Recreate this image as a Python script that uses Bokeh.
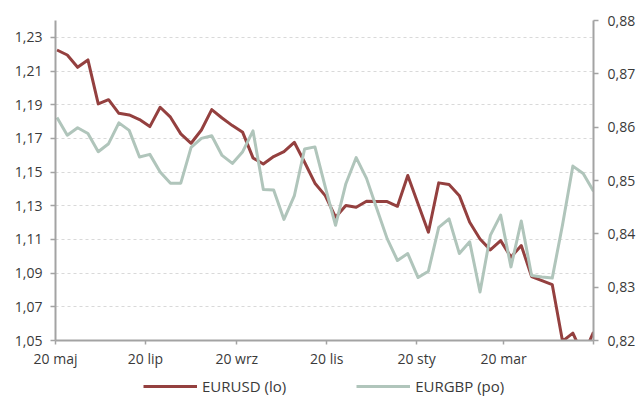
import pandas as pd
from bokeh.plotting import figure
from bokeh.layouts import column
from bokeh.models import (Range1d, LinearAxis, FixedTicker, CustomJSTickFormatter,
                          Legend, LegendItem)
from bokeh.embed import file_html
from bokeh.resources import INLINE

# ---- data (weekly, Fridays) ----
dates = pd.date_range("2021-05-21", periods=53, freq="7D")
eurusd = [1.2225, 1.2195, 1.2122, 1.2166, 1.1905, 1.1930, 1.1849, 1.1839, 1.1812, 1.1770,
          1.1885, 1.1826, 1.1727, 1.1671, 1.1750, 1.1871, 1.1821, 1.1776, 1.1736, 1.1584,
          1.1548, 1.1592, 1.1622, 1.1677, 1.1558, 1.1434, 1.1360, 1.1232, 1.1301, 1.1291,
          1.1327, 1.1325, 1.1325, 1.1297, 1.1480, 1.1310, 1.1143, 1.1436, 1.1426, 1.1360,
          1.1202, 1.1103, 1.1038, 1.1093, 1.0995, 1.1064, 1.0880, 1.0856, 1.0832, 1.0496,
          1.0544, 1.0410, 1.0550]
eurgbp = [0.8618, 0.8585, 0.8599, 0.8588, 0.8554, 0.8569, 0.8608, 0.8594, 0.8544, 0.8549,
          0.8516, 0.8495, 0.8495, 0.8562, 0.8579, 0.8584, 0.8547, 0.8532, 0.8554, 0.8593,
          0.8483, 0.8482, 0.8427, 0.8471, 0.8559, 0.8563, 0.8488, 0.8416, 0.8494, 0.8543,
          0.8504, 0.8447, 0.8391, 0.8350, 0.8363, 0.8318, 0.8330, 0.8412, 0.8428, 0.8363,
          0.8385, 0.8291, 0.8397, 0.8435, 0.8338, 0.8424, 0.8322, 0.8319, 0.8317, 0.8417,
          0.8527, 0.8513, 0.8480]

left_ticks = [1.05, 1.07, 1.09, 1.11, 1.13, 1.15, 1.17, 1.19, 1.21, 1.23]
right_ticks = [0.82, 0.83, 0.84, 0.85, 0.86, 0.87, 0.88]
x_tick_dates = ["2021-05-20", "2021-07-20", "2021-09-20", "2021-11-20",
                "2022-01-20", "2022-03-20", "2022-05-20"]
x_tick_labels = ["20 maj", "20 lip", "20 wrz", "20 lis", "20 sty", "20 mar", ""]
series_labels = ["EURUSD (lo)", "EURGBP (po)"]

RED = "#94403f"
GREEN = "#b0c5bb"
AXIS = "#a3a3a3"
TEXT = "#3a3a3a"
FONT = "Open Sans"

x_ms = [pd.Timestamp(d).value / 1e6 for d in x_tick_dates]

p = figure(width=638, height=370, x_axis_type="datetime",
           x_range=Range1d(x_ms[0], x_ms[-1]), y_range=Range1d(1.05, 1.24),
           output_backend="svg", toolbar_location=None,
           min_border_left=55, min_border_right=45, min_border_top=20, min_border_bottom=30)
p.outline_line_color = None
p.background_fill_color = "white"
p.border_fill_color = "white"

p.extra_y_ranges = {"right": Range1d(0.82, 0.88)}

num_fmt = CustomJSTickFormatter(code="return tick.toFixed(2).replace('.', ',');")

# x axis
xa = p.xaxis[0]
xa.ticker = FixedTicker(ticks=x_ms)
xa.formatter = CustomJSTickFormatter(args=dict(t=x_ms, l=x_tick_labels), code="""
let best = 0, bd = Infinity;
for (let i = 0; i < t.length; i++) { const d = Math.abs(t[i] - tick); if (d < bd) { bd = d; best = i; } }
return l[best];
""")
# left axis
ya = p.yaxis[0]
ya.ticker = FixedTicker(ticks=left_ticks)
ya.formatter = num_fmt

ra = LinearAxis(y_range_name="right", ticker=FixedTicker(ticks=right_ticks), formatter=num_fmt)
p.add_layout(ra, "right")

for ax in (xa, ya, ra):
    ax.axis_line_color = AXIS
    ax.axis_line_width = 2
    ax.major_tick_line_color = AXIS
    ax.major_tick_line_width = 1.5
    ax.major_tick_in = 0
    ax.major_tick_out = 5
    ax.minor_tick_line_color = None
    ax.major_label_text_font = FONT
    ax.major_label_text_font_size = "14px"
    ax.major_label_text_color = TEXT
xa.major_tick_out = 4
xa.major_label_standoff = 4
ya.major_label_standoff = 8
ra.major_label_standoff = 9

p.xgrid.visible = False
p.ygrid.grid_line_color = "#d9d9d9"
p.ygrid.grid_line_dash = "3 3"
p.ygrid.grid_line_width = 1

r1 = p.line(dates, eurusd, line_color=RED, line_width=3, line_join="round")
r2 = p.line(dates, eurgbp, line_color=GREEN, line_width=3, line_join="round",
            y_range_name="right")

# ---- legend strip below the chart ----
q = figure(width=638, height=26, x_range=Range1d(0, 1), y_range=Range1d(0, 1),
           output_backend="svg", toolbar_location=None,
           x_axis_location=None, y_axis_location=None,
           min_border_left=55, min_border_right=45, min_border_top=0, min_border_bottom=0)
q.outline_line_color = None
q.xgrid.visible = False
q.ygrid.visible = False
q.border_fill_color = "white"
l1 = q.line(dates, eurusd, line_color=RED, line_width=3)
l2 = q.line(dates, eurgbp, line_color=GREEN, line_width=3)

legend = Legend(items=[LegendItem(label=series_labels[0], renderers=[l1]),
                       LegendItem(label=series_labels[1], renderers=[l2])],
                orientation="horizontal", location=(88, 0),
                glyph_width=54, glyph_height=14, label_height=14, label_standoff=5, spacing=70,
                padding=0, margin=0, border_line_color=None, background_fill_alpha=0,
                label_text_font=FONT, label_text_font_size="15px", label_text_color=TEXT)
q.add_layout(legend)

open("out.html", "w").write(file_html(column(p, q, spacing=0), INLINE))
